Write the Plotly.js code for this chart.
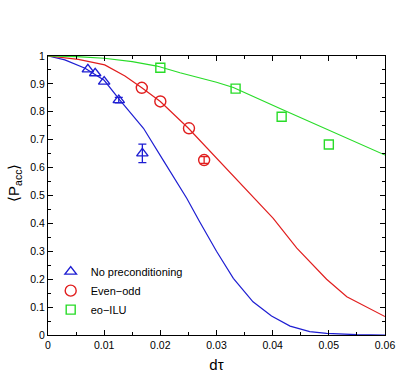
<!DOCTYPE html>
<html>
<head>
<meta charset="utf-8">
<script src="https://cdn.plot.ly/plotly-3.0.1.min.js"></script>
<style>
  html, body { margin: 0; padding: 0; background: #fff; }
  #plot { width: 404px; height: 376px; }
</style>
</head>
<body>
<div id="plot"></div>
<script>
// Measured acceptance rates (error bars only where they exceed the marker)
const noPrecX = [0.0071, 0.0084, 0.0100, 0.0126, 0.0168];
const noPrecY = [0.952, 0.938, 0.908, 0.842, 0.651];
const noPrecErr = [0, 0, 0, 0.010, 0.033];

const evenOddX = [0.0167, 0.0200, 0.0251, 0.0278];
const evenOddY = [0.886, 0.837, 0.741, 0.627];
const evenOddErr = [0, 0, 0, 0.012];

const eoIluX = [0.0200, 0.0334, 0.0416, 0.0500];
const eoIluY = [0.958, 0.883, 0.782, 0.683];

// Predicted curves
const noPrecCurveX = [0, 0.003, 0.0066, 0.010, 0.0128, 0.015, 0.017, 0.0205, 0.0226, 0.0247, 0.027, 0.030, 0.033, 0.0365, 0.0398, 0.0431, 0.0466, 0.0496, 0.055, 0.060];
const noPrecCurveY = [1, 0.986, 0.956, 0.913, 0.842, 0.79, 0.741, 0.627, 0.556, 0.49, 0.406, 0.30, 0.203, 0.119, 0.068, 0.032, 0.012, 0.006, 0.001, 0.0];

const evenOddCurveX = [0, 0.0054, 0.0101, 0.0137, 0.0167, 0.020, 0.025, 0.030, 0.0336, 0.0401, 0.0443, 0.0496, 0.0532, 0.0573, 0.060];
const evenOddCurveY = [1, 0.988, 0.968, 0.928, 0.886, 0.837, 0.741, 0.634, 0.556, 0.418, 0.311, 0.200, 0.137, 0.096, 0.066];

const eoIluCurveX = [0, 0.005, 0.010, 0.015, 0.0194, 0.0235, 0.030, 0.033, 0.0413, 0.050, 0.060];
const eoIluCurveY = [1, 0.998, 0.992, 0.980, 0.964, 0.940, 0.906, 0.887, 0.812, 0.735, 0.645];

const blue = 'rgb(30,30,210)';
const red = 'rgb(225,30,30)';
const green = 'rgb(40,220,40)';

function errs(arr) {
  // Points without a visible bar get no bar at all
  return arr.map(v => (v > 0 ? v : NaN));
}

const traces = [
  { x: noPrecCurveX, y: noPrecCurveY, mode: 'lines', line: { color: blue, width: 1.2 }, showlegend: false, hoverinfo: 'skip' },
  { x: evenOddCurveX, y: evenOddCurveY, mode: 'lines', line: { color: red, width: 1.2 }, showlegend: false, hoverinfo: 'skip' },
  { x: eoIluCurveX, y: eoIluCurveY, mode: 'lines', line: { color: green, width: 1.2 }, showlegend: false, hoverinfo: 'skip' },
  {
    x: noPrecX, y: noPrecY, mode: 'markers', name: 'No preconditioning',
    marker: { symbol: 'triangle-up-open', size: 10, color: blue, line: { width: 1.4 } },
    error_y: { type: 'data', array: errs(noPrecErr), color: blue, thickness: 1.3, width: 4 }
  },
  {
    x: evenOddX, y: evenOddY, mode: 'markers', name: 'Even\u2212odd',
    marker: { symbol: 'circle-open', size: 11, color: red, line: { width: 1.4 } },
    error_y: { type: 'data', array: errs(evenOddErr), color: red, thickness: 1.3, width: 4 }
  },
  {
    x: eoIluX, y: eoIluY, mode: 'markers', name: 'eo\u2212ILU',
    marker: { symbol: 'square-open', size: 9, color: green, line: { width: 1.4 } }
  }
];

const axisCommon = {
  showline: true, linecolor: '#000', linewidth: 1, mirror: 'ticks',
  ticks: 'inside', ticklen: 5, tickcolor: '#000', tickwidth: 1,
  showgrid: false, zeroline: false,
  tickfont: { family: 'Liberation Sans, Arial, sans-serif', size: 10.5, color: '#000' },
  minor: { ticks: 'inside', ticklen: 3, tickcolor: '#000', tickwidth: 1 }
};

const layout = {
  width: 404, height: 376,
  margin: { l: 48, r: 19, t: 56, b: 41 },
  paper_bgcolor: '#fff', plot_bgcolor: '#fff',
  font: { family: 'Liberation Sans, Arial, sans-serif', color: '#000' },
  xaxis: Object.assign({}, axisCommon, {
    range: [0, 0.06], dtick: 0.01, tick0: 0,
    minor: Object.assign({}, axisCommon.minor, { dtick: 0.005 }),
    title: { text: 'd\u03c4', font: { size: 15 }, standoff: 9 }
  }),
  yaxis: Object.assign({}, axisCommon, {
    range: [0, 1], dtick: 0.1, tick0: 0,
    minor: Object.assign({}, axisCommon.minor, { dtick: 0.05 })
  }),
  annotations: [{
    text: '\u27e8P<sub>acc</sub>\u27e9',
    xref: 'paper', yref: 'paper', x: -0.098, y: 0.545,
    xanchor: 'center', yanchor: 'middle', textangle: -90,
    showarrow: false, font: { size: 15, color: '#000' }
  }],
  legend: {
    x: 0.008, y: 0.279, xanchor: 'left', yanchor: 'top',
    bgcolor: 'rgba(0,0,0,0)', borderwidth: 0,
    font: { size: 11 }, itemwidth: 30, tracegroupgap: 0
  },
  showlegend: true
};

Plotly.newPlot('plot', traces, layout, { displayModeBar: false, staticPlot: true });
</script>
</body>
</html>
